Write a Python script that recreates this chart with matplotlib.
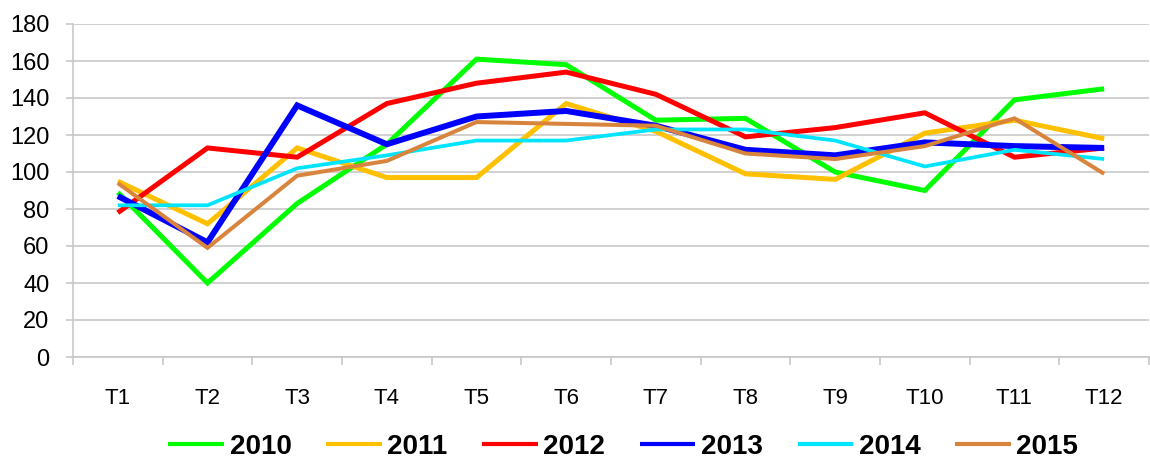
import matplotlib.pyplot as plt
import numpy as np

plt.rcParams['font.family'] = ['Liberation Sans', 'DejaVu Sans']

months = ['T1', 'T2', 'T3', 'T4', 'T5', 'T6', 'T7', 'T8', 'T9', 'T10', 'T11', 'T12']
years = ['2010', '2011', '2012', '2013', '2014', '2015']

v2010 = [89, 40, 83, 115, 161, 158, 128, 129, 100, 90, 139, 145]
v2011 = [95, 72, 113, 97, 97, 137, 122, 99, 96, 121, 128, 118]
v2012 = [78, 113, 108, 137, 148, 154, 142, 119, 124, 132, 108, 113]
v2013 = [87, 62, 136, 115, 130, 133, 125, 112, 109, 116, 114, 113]
v2014 = [82, 82, 102, 109, 117, 117, 123, 123, 117, 103, 112, 107]
v2015 = [94, 59, 98, 106, 127, 126, 125, 110, 107, 114, 129, 99]

series = [v2010, v2011, v2012, v2013, v2014, v2015]
colors = ['#00ff00', '#ffc000', '#ff0000', '#0000ff', '#00e5ff', '#d8843c']
widths = [3.6, 3.6, 3.6, 4.3, 2.7, 2.9]

fig = plt.figure(figsize=(11.5, 4.59), dpi=100)
ax = fig.add_axes([73 / 1150, 1 - 357 / 459, (1149 - 73) / 1150, (357 - 24) / 459])

x = np.arange(len(months))
for vals, c, lw, lab in zip(series, colors, widths, years):
    ax.plot(x, vals, color=c, lw=lw, label=lab, solid_joinstyle='miter',
            solid_capstyle='butt')

ax.set_ylim(0, 180)
ax.set_yticks(np.arange(0, 181, 20))
ax.set_xlim(-0.5, 11.24)
ax.set_xticks(x)
ax.set_xticklabels(months)
ax.set_xticks(np.arange(-0.5, 11.6, 1), minor=True)

grid_c = '#c8c8c8'
ax.grid(axis='y', color=grid_c, lw=1.2)
ax.set_axisbelow(True)
for s in ['top', 'right']:
    ax.spines[s].set_visible(False)
for s in ['left', 'bottom']:
    ax.spines[s].set_color(grid_c)
    ax.spines[s].set_linewidth(1.2)

ax.tick_params(axis='x', which='major', length=0, pad=22, labelsize=16)
ax.tick_params(axis='x', which='minor', length=6, color=grid_c, width=1.2)
ax.tick_params(axis='y', length=5, color=grid_c, width=1.2, pad=12, labelsize=17)

leg = fig.legend(loc='center', bbox_to_anchor=(0.542, 0.026), ncol=6, frameon=False,
                 prop={'size': 20, 'weight': 'bold'}, handlelength=2.0,
                 handletextpad=0.2, columnspacing=1.25)
for h in leg.get_lines():
    h.set_linewidth(3.0)

fig.savefig('out.png', dpi=100)
